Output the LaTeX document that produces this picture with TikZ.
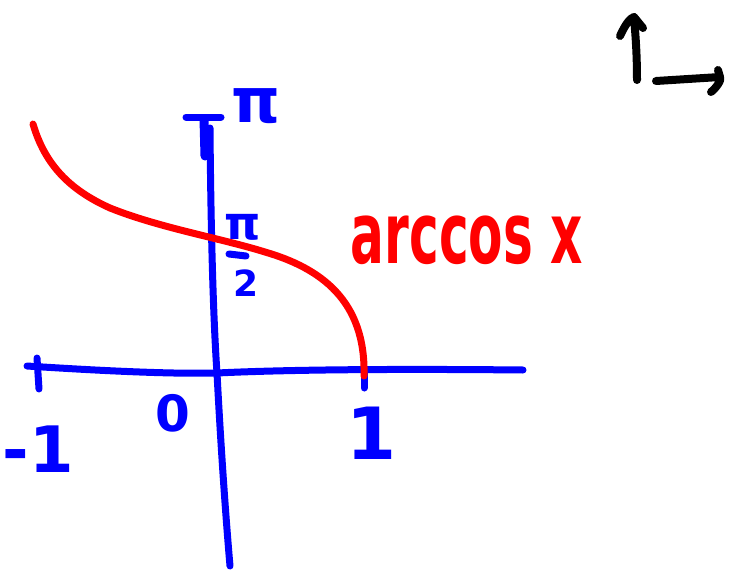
\documentclass[tikz,border=0pt]{standalone}
\usepackage{fontspec}
\setmainfont{DejaVu Sans}
\definecolor{penblue}{RGB}{0,0,255}
\definecolor{penred}{RGB}{255,0,0}
\begin{document}
\begin{tikzpicture}[x=1pt,y=-1pt,
  pen/.style={line width=7pt,line cap=round,line join=round},
  bluepen/.style={pen,draw=penblue},
  redpen/.style={pen,draw=penred},
  blackpen/.style={line width=8pt,line cap=round,line join=round,draw=black},
  lbl/.style={inner sep=0pt,text=penblue}]
\useasboundingbox[fill=white] (0,0) rectangle (739,570);
% coordinates
\coordinate (xl) at (27,366);
\coordinate (xr) at (523,370);
\coordinate (yt) at (210,128);
\coordinate (yb) at (230,566);
% horizontal axis
\draw[bluepen] (xl) .. controls (120,372) and (180,374) .. (217,373)
  .. controls (300,369) and (420,369) .. (xr);
% vertical axis
\draw[bluepen] (yt) .. controls (211,250) and (214,330) .. (217,373)
  .. controls (221,450) and (226,520) .. (yb);
% T at top
\coordinate (tl) at (186,117);
\coordinate (tr) at (221,117);
\coordinate (ts) at (204,119);
\coordinate (tb) at (205,156);
\draw[bluepen] (tl) -- (tr);
\draw[bluepen,line width=9pt] (ts) -- (tb);
% ticks
\coordinate (m1a) at (37,358);
\coordinate (m1b) at (39,389);
\draw[bluepen] (m1a) -- (m1b);
\coordinate (p1a) at (364,372);
\coordinate (p1b) at (364,388);
\draw[bluepen] (p1a) -- (p1b);
% red arccos curve
\coordinate (ca) at (33,124);
\coordinate (cb) at (364,376);
\draw[redpen] (ca) .. controls (45,165) and (70,190) .. (110,208)
  .. controls (160,228) and (220,238) .. (265,252)
  .. controls (320,268) and (366,300) .. (cb);
% labels
\node[lbl,font=\bfseries\fontsize{62}{62}\selectfont] (pi) at (256,106) {π};
\node[lbl,font=\bfseries\fontsize{46}{46}\selectfont] (pih) at (243,227) {π};
\coordinate (fba) at (229,254);
\coordinate (fbb) at (246,256);
\draw[bluepen] (fba) -- (fbb);
\node[lbl,font=\bfseries\fontsize{36}{36}\selectfont] (two) at (246,283) {2};
\node[lbl,font=\bfseries\fontsize{50}{50}\selectfont] (zero) at (173,413) {0};
\node[lbl,font=\bfseries\fontsize{72}{72}\selectfont] (one) at (372,433) {1};
\node[lbl,font=\bfseries\fontsize{64}{64}\selectfont] (mone) at (38,449) {-1};
\node[inner sep=0pt,text=penred,font=\bfseries\fontsize{85}{85}\selectfont] (arc) at (467,240)
  {\scalebox{0.59}[1]{arccos x}};
% black arrows
\coordinate (va) at (637,80);
\coordinate (vt) at (634,17);
\coordinate (vh) at (620,36);
\draw[blackpen] (va) .. controls (637,50) and (635,30) .. (vt)
  .. controls (630,18) and (625,25) .. (vh);
\coordinate (vh2) at (643,28);
\draw[blackpen] (vt) -- (vh2);
\coordinate (ha) at (656,81);
\coordinate (ht) at (720,77);
\coordinate (hh) at (711,92);
\coordinate (hh2) at (718,70);
\draw[blackpen] (ha) -- (ht) .. controls (722,80) and (716,88) .. (hh);
\draw[blackpen] (hh2) -- (ht);
\end{tikzpicture}
\end{document}
